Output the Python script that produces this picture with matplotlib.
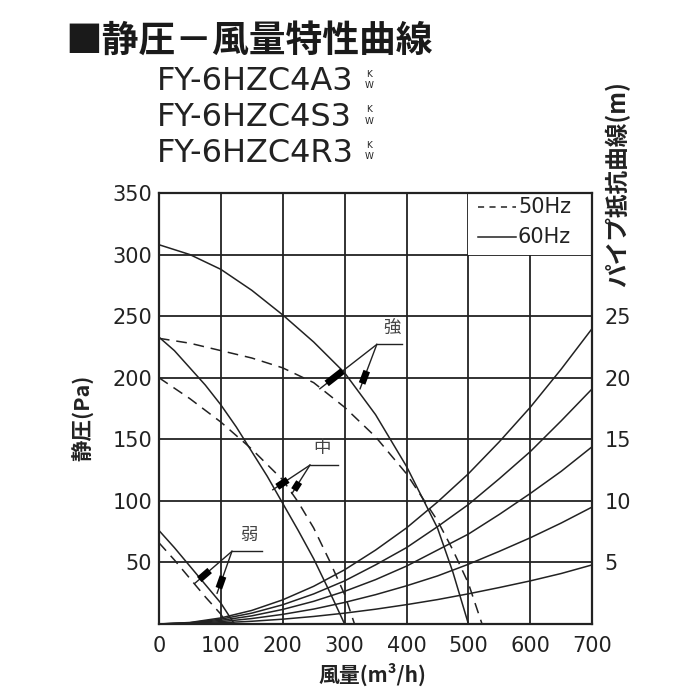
import matplotlib
matplotlib.use("Agg")
import matplotlib.pyplot as plt
from matplotlib.patches import Rectangle

plt.rcParams['font.family'] = ['DejaVu Sans', 'Noto Sans CJK JP']

# ---- data (flow m3/h, static pressure Pa) ----
flow_strong_60 = [0, 50, 100, 150, 200, 250, 300, 350, 400, 450, 475, 500]
pa_strong_60 = [308, 300, 288, 271, 251, 229, 204, 170, 128, 78, 42, 0]
flow_strong_50 = [0, 50, 100, 150, 200, 250, 300, 350, 400, 450, 475, 500, 522]
pa_strong_50 = [232, 228, 222, 216, 208, 196, 176, 152, 122, 84, 60, 33, 0]

flow_mid_60 = [0, 25, 50, 75, 100, 125, 150, 175, 200, 225, 250, 275, 300]
pa_mid_60 = [233, 222, 208, 194, 178, 160, 140, 120, 98, 76, 53, 27, 0]
flow_mid_50 = [0, 50, 100, 150, 200, 225, 250, 275, 300, 316]
pa_mid_50 = [200, 183, 164, 142, 117, 99, 78, 52, 24, 0]

flow_weak_60 = [0, 25, 50, 75, 100, 122]
pa_weak_60 = [76, 62, 47, 32, 17, 0]
flow_weak_50 = [0, 25, 50, 75, 100, 110]
pa_weak_50 = [66, 52, 37, 22, 8, 0]

# pipe resistance curves (5..25 m), in Pa
pipe_flow = [0, 50, 100, 150, 200, 250, 300, 350, 400, 450, 500, 550, 600, 650, 700]
pipe_5m = [0, 0.2, 1, 2.2, 3.9, 6.1, 8.8, 12, 15.7, 19.8, 24.5, 29.6, 35, 41, 48]
pipe_10m = [0, 0.5, 1.9, 4.4, 7.8, 12.1, 17.5, 23.8, 31, 39, 48.5, 59, 70, 82, 95]
pipe_15m = [0, 0.7, 2.9, 6.6, 11.8, 18.4, 26.5, 36, 47, 60, 73, 89, 106, 124, 144]
pipe_20m = [0, 1, 3.9, 8.8, 15.6, 24.4, 35, 48, 62, 79, 97, 118, 140, 165, 191]
pipe_25m = [0, 1.2, 4.9, 11, 19.6, 30.6, 44, 60, 78, 99, 122, 148, 176, 207, 240]

x_ticks = [0, 100, 200, 300, 400, 500, 600, 700]
y_ticks = [50, 100, 150, 200, 250, 300, 350]
right_ticks = [5, 10, 15, 20, 25]
models = ['FY-6HZC4A3', 'FY-6HZC4S3', 'FY-6HZC4R3']

# annotations: label, text pos, bar (x0, x1, y), leader ends (dashed, solid)
notes = [
    ('強', (377, 240), (352, 392, 227), [(260, 191), (325, 191)]),
    ('中', (264, 143), (244, 289, 129), [(184, 109), (215, 106)]),
    ('弱', (145, 72), (118, 166, 59), [(58, 33), (94, 25)]),
]

ink = '#222222'
cjk = ['Noto Sans CJK JP', 'DejaVu Sans']

fig = plt.figure(figsize=(7, 7), dpi=100)
ax = fig.add_axes([0.227, 0.1086, 0.619, 0.6157])
ax.set_xlim(0, 700)
ax.set_ylim(0, 350)

# grid drawn by hand so the legend box can interrupt the 600 line
for gx in [100, 200, 300, 400, 500]:
    ax.plot([gx, gx], [0, 350], color=ink, lw=1.3, zorder=1)
ax.plot([600, 600], [0, 300], color=ink, lw=1.3, zorder=1)
for gy in [50, 100, 150, 200, 250, 300]:
    ax.plot([0, 700], [gy, gy], color=ink, lw=1.3, zorder=1)

for s in ax.spines.values():
    s.set_linewidth(1.6)
    s.set_color(ink)

dash = (0, (7, 4.5))
lw = 1.1
ax.plot(flow_strong_60, pa_strong_60, color=ink, lw=lw, zorder=3)
ax.plot(flow_strong_50, pa_strong_50, color=ink, lw=lw, ls=dash, zorder=3)
ax.plot(flow_mid_60, pa_mid_60, color=ink, lw=lw, zorder=3)
ax.plot(flow_mid_50, pa_mid_50, color=ink, lw=lw, ls=dash, zorder=3)
ax.plot(flow_weak_60, pa_weak_60, color=ink, lw=lw, zorder=3)
ax.plot(flow_weak_50, pa_weak_50, color=ink, lw=lw, ls=dash, zorder=3)

for curve in [pipe_5m, pipe_10m, pipe_15m, pipe_20m, pipe_25m]:
    ax.plot(pipe_flow, curve, color=ink, lw=lw, zorder=3)

# leaders with the black arrow flags
for label, tpos, bar, ends in notes:
    x0, x1, by = bar
    ax.plot([x0, x1], [by, by], color=ink, lw=1.0, zorder=4)
    ax.text(tpos[0], tpos[1], label, family=cjk, fontsize=12.5, color='#444',
            ha='center', va='center', zorder=4)
    for ex, ey in ends:
        ax.plot([x0, ex], [by, ey], color=ink, lw=1.0, zorder=4)
        fx0 = ex + (x0 - ex) * 0.12
        fy0 = ey + (by - ey) * 0.12
        fx1 = ex + (x0 - ex) * 0.40
        fy1 = ey + (by - ey) * 0.40
        ax.plot([fx0, fx1], [fy0, fy1], color='black', lw=5,
                solid_capstyle='butt', zorder=5)

# legend box
ax.add_patch(Rectangle((500, 300), 200, 50, fc='white', ec='none', zorder=2))
ax.plot([515, 577], [339, 339], color=ink, lw=1.1, ls=(0, (4, 3.5)), zorder=3)
ax.plot([515, 577], [314, 314], color=ink, lw=1.1, zorder=3)
ax.text(580, 339, '50Hz', fontsize=15, va='center', ha='left', color=ink)
ax.text(580, 314, '60Hz', fontsize=15, va='center', ha='left', color=ink)

ax.set_xticks(x_ticks)
ax.set_yticks(y_ticks)
ax.tick_params(length=0, labelsize=15, colors=ink)
ax.tick_params(axis='x', pad=9)
ax.tick_params(axis='y', pad=5)

ax2 = ax.twinx()
ax2.set_ylim(0, 35)
ax2.set_yticks(right_ticks)
ax2.tick_params(length=0, labelsize=15, colors=ink, pad=9)
for s in ax2.spines.values():
    s.set_visible(False)

fig.text(0.119, 0.403, '静圧(Pa)', family=cjk, fontsize=15.5, fontweight='bold',
         rotation=90, ha='center', va='center', color=ink)
fig.text(0.532, 0.036, '風量(m³/h)', family=cjk, fontsize=15, fontweight='bold',
         ha='center', va='center', color=ink)
fig.text(0.882, 0.737, 'パイプ抵抗曲線(m)', family=cjk, fontsize=17, fontweight='bold',
         rotation=90, ha='center', va='center', color=ink)

fig.text(0.094, 0.941, '■静圧－風量特性曲線', family=cjk, fontsize=26.5,
         fontweight='bold', ha='left', va='center', color='#1a1a1a')

for i, m in enumerate(models):
    yy = 1 - (82 + 35.5 * i) / 700
    fig.text(0.224, yy, m, fontsize=23, ha='left', va='center', color=ink)
    fig.text(0.527, yy + 0.011, 'K', fontsize=6.5, ha='center', va='center', color=ink)
    fig.text(0.527, yy - 0.005, 'W', fontsize=6.5, ha='center', va='center', color=ink)

fig.savefig('out.png', dpi=100)
